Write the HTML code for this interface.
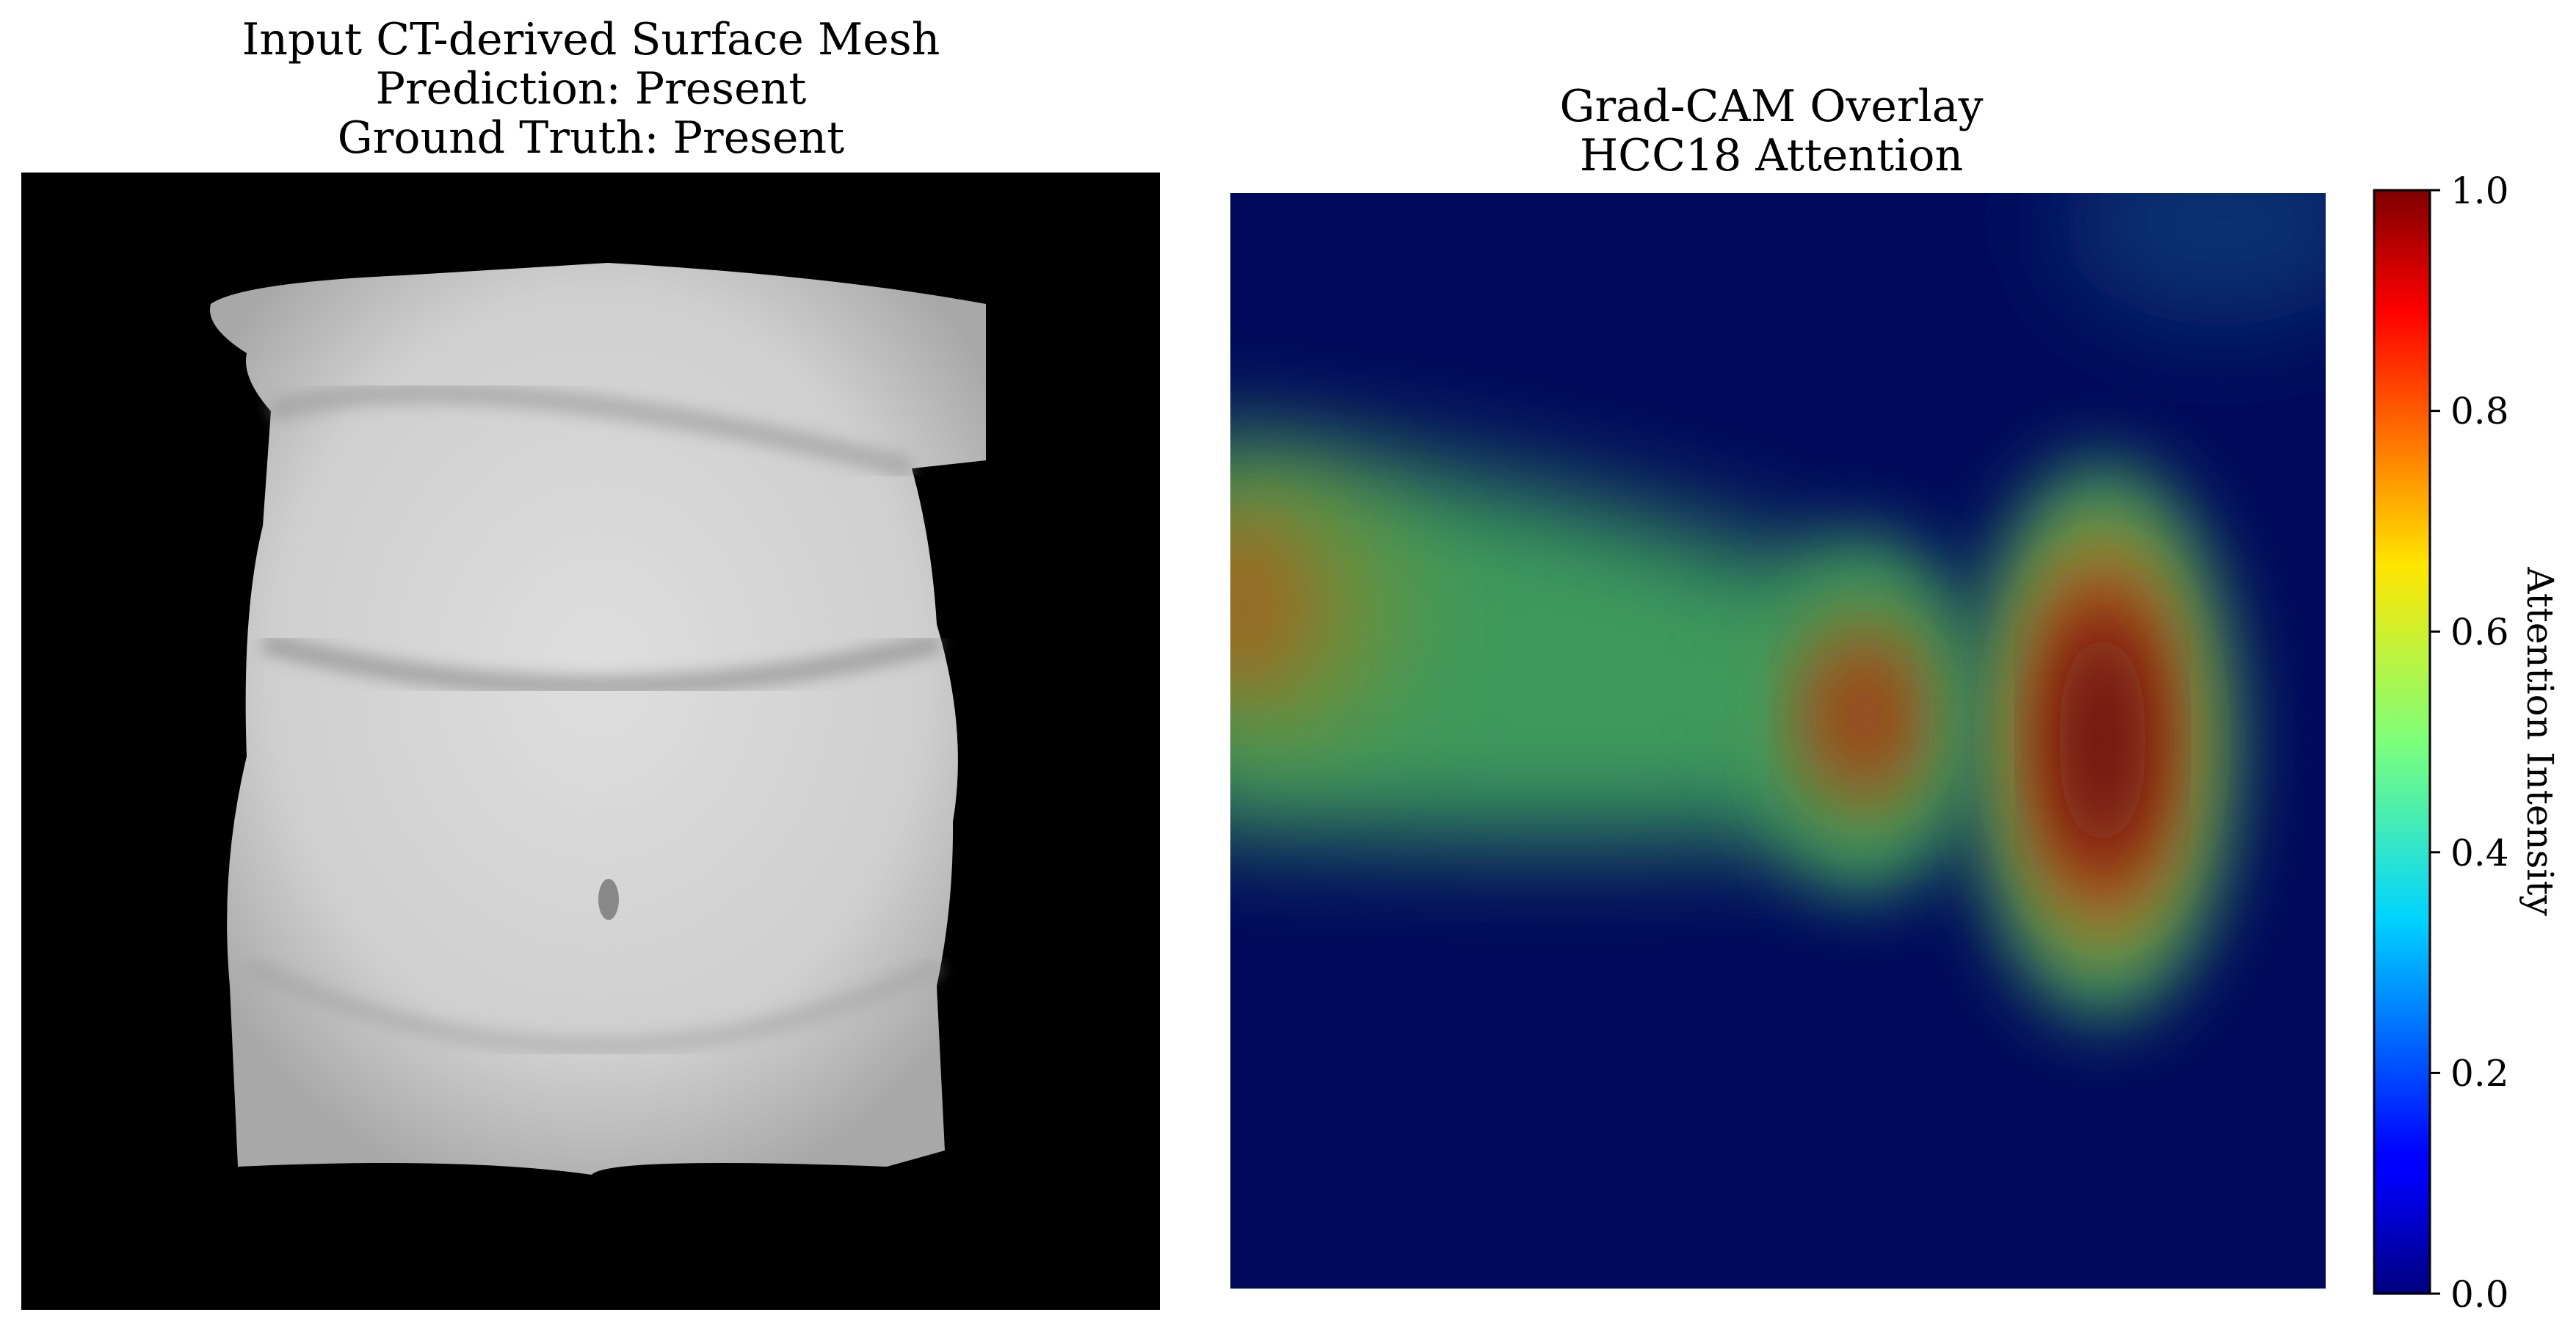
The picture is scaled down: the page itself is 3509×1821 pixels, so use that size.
<!DOCTYPE html>
<html><head><meta charset="utf-8"><style>
html,body{margin:0;padding:0;background:#fff;overflow:hidden;width:3509px;height:1821px;}
svg{display:block;}
text{font-family:"DejaVu Serif","Liberation Serif",serif;fill:#000;}
</style></head><body>
<svg width="3509" height="1821" viewBox="0 0 3509 1821" xmlns="http://www.w3.org/2000/svg">
<defs>
<filter id="b60" x="-50%" y="-50%" width="200%" height="200%"><feGaussianBlur stdDeviation="70"/></filter>
<filter id="b40" x="-50%" y="-50%" width="200%" height="200%"><feGaussianBlur stdDeviation="50"/></filter>
<filter id="b8"><feGaussianBlur stdDeviation="10"/></filter>
<linearGradient id="jet" x1="0" y1="1" x2="0" y2="0">
<stop offset="0" stop-color="#00007f"/><stop offset="0.11" stop-color="#0000ff"/>
<stop offset="0.125" stop-color="#0000ff"/><stop offset="0.34" stop-color="#00d4ff"/>
<stop offset="0.5" stop-color="#7dff7a"/><stop offset="0.66" stop-color="#ffe600"/>
<stop offset="0.89" stop-color="#ff0000"/><stop offset="1" stop-color="#7f0000"/>
</linearGradient>
<radialGradient id="torso" cx="0.5" cy="0.45" r="0.6">
<stop offset="0" stop-color="#dedede"/><stop offset="0.7" stop-color="#cfcfcf"/><stop offset="1" stop-color="#a8a8a8"/>
</radialGradient>
<clipPath id="hm"><rect x="0" y="0" width="1492" height="1492"/></clipPath>
</defs>

<text x="805" y="74" font-size="60" text-anchor="middle">Input CT-derived Surface Mesh</text>
<text x="805" y="141" font-size="60" text-anchor="middle">Prediction: Present</text>
<text x="805" y="208" font-size="60" text-anchor="middle">Ground Truth: Present</text>

<rect x="29" y="235" width="1551" height="1549" fill="#000"/>
<g transform="translate(29,235)">
<path d="M258,179 Q300,150 520,140 L799,123 Q1100,140 1314,179 L1314,392 L1213,403 Q1240,500 1247,615 Q1290,760 1269,884 Q1270,1000 1247,1108 L1258,1332 L1179,1354 Q800,1340 777,1365 Q600,1340 295,1354 L284,1108 Q270,950 307,795 Q300,600 329,481 L340,325 Q300,280 307,246 Q250,210 258,179 Z" fill="url(#torso)"/>
<path d="M340,325 Q600,250 1213,403" stroke="#9a9a9a" stroke-width="30" fill="none" filter="url(#b8)" opacity="0.6"/>
<path d="M330,640 Q780,760 1250,640" stroke="#8a8a8a" stroke-width="30" fill="none" filter="url(#b8)" opacity="0.6"/>
<path d="M307,1080 Q780,1300 1250,1080" stroke="#a0a0a0" stroke-width="25" fill="none" filter="url(#b8)" opacity="0.5"/>
<ellipse cx="800" cy="990" rx="14" ry="28" fill="#888"/>
</g>

<text x="2413" y="165" font-size="60" text-anchor="middle">Grad-CAM Overlay</text>
<text x="2413" y="232" font-size="60" text-anchor="middle">HCC18 Attention</text>

<g transform="translate(1676,263)" clip-path="url(#hm)">
<rect x="0" y="0" width="1492" height="1492" fill="#000a5c"/>
<ellipse cx="1350" cy="40" rx="220" ry="140" fill="#0a3c78" filter="url(#b60)" opacity="0.8"/>
<path d="M-100,330 Q500,380 900,560 L900,860 Q500,900 -100,860 Z" fill="#3e9a5c" filter="url(#b60)"/>
<ellipse cx="60" cy="570" rx="180" ry="180" fill="#6f8e3a" filter="url(#b60)"/>
<ellipse cx="20" cy="560" rx="90" ry="120" fill="#9a6a20" filter="url(#b40)"/>
<ellipse cx="864" cy="712" rx="160" ry="240" fill="#3e9a5c" filter="url(#b40)"/>
<ellipse cx="864" cy="712" rx="100" ry="140" fill="#8a7a30" filter="url(#b40)"/>
<ellipse cx="864" cy="712" rx="65" ry="95" fill="#9a3c18" filter="url(#b40)"/>
<ellipse cx="1188" cy="745" rx="180" ry="380" fill="#3e9a5c" filter="url(#b40)"/>
<ellipse cx="1188" cy="745" rx="130" ry="300" fill="#9a8a30" filter="url(#b40)"/>
<ellipse cx="1188" cy="745" rx="95" ry="235" fill="#a03a18" filter="url(#b40)"/>
<ellipse cx="1188" cy="745" rx="60" ry="160" fill="#6a0808" filter="url(#b40)"/>
</g>

<rect x="3234" y="259" width="76" height="1503" fill="url(#jet)" stroke="#000" stroke-width="3"/>
<g stroke="#000" stroke-width="3">
<line x1="3310" y1="259" x2="3324" y2="259"/><line x1="3310" y1="559.6" x2="3324" y2="559.6"/>
<line x1="3310" y1="860.2" x2="3324" y2="860.2"/><line x1="3310" y1="1160.8" x2="3324" y2="1160.8"/>
<line x1="3310" y1="1461.4" x2="3324" y2="1461.4"/><line x1="3310" y1="1762" x2="3324" y2="1762"/>
</g>
<g font-size="50">
<text x="3338" y="277">1.0</text><text x="3338" y="577">0.8</text>
<text x="3338" y="878">0.6</text><text x="3338" y="1179">0.4</text>
<text x="3338" y="1479">0.2</text><text x="3338" y="1780">0.0</text>
</g>
<text transform="translate(3443,1010) rotate(90)" font-size="50" text-anchor="middle">Attention Intensity</text>
</svg>
</body></html>
